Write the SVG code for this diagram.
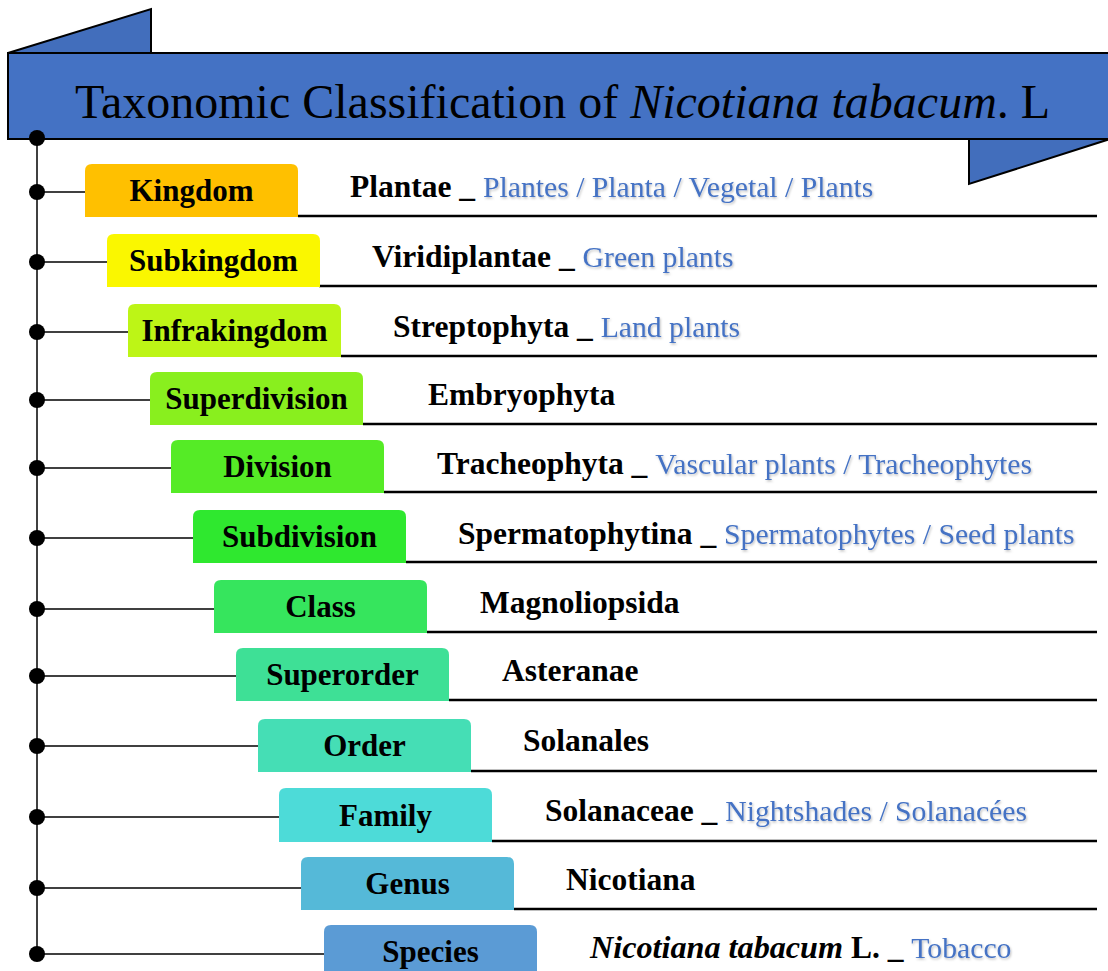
<svg xmlns="http://www.w3.org/2000/svg" width="1108" height="971" viewBox="0 0 1108 971">
<defs>
<style>
.rank{font-family:"Liberation Serif","Times New Roman",serif;font-weight:bold;font-size:31px;fill:#000;text-anchor:middle}
.name{font-family:"Liberation Serif","Times New Roman",serif;font-weight:bold;font-size:31.5px;fill:#000}
.com{font-weight:normal;font-size:29.7px;fill:#4472C4;filter:url(#sh)}
.ul{stroke:#000;stroke-width:2.5;fill:none}
.con{stroke:#000;stroke-width:1.5;fill:none}
.dot{fill:#000}
.title{font-family:"Liberation Serif","Times New Roman",serif;font-size:48px;fill:#000}
</style>
<filter id="sh" x="-5%" y="-20%" width="110%" height="150%">
<feDropShadow dx="1" dy="1.5" stdDeviation="1" flood-color="#000" flood-opacity="0.25"/>
</filter>
</defs>
<rect width="1108" height="971" fill="#fff"/>

<g id="banner">
<polygon points="8,53 151,9 151,53" fill="#426EBC" stroke="#000" stroke-width="2" stroke-linejoin="miter"/>
<polygon points="969,139 969,184 1110,139" fill="#426EBC" stroke="#000" stroke-width="2"/>
<rect x="8" y="53" width="1104" height="86" fill="#4472C4" stroke="#000" stroke-width="2"/>
<text class="title" x="75" y="118">Taxonomic Classification of <tspan font-style="italic">Nicotiana tabacum</tspan>. L</text>
</g>

<g id="connectors">
<line class="con" x1="37" y1="138" x2="37" y2="954"/>
<circle class="dot" cx="37" cy="138" r="8"/>
<line class="con" x1="37" y1="192" x2="85" y2="192"/><circle class="dot" cx="37" cy="192" r="8"/>
<line class="con" x1="37" y1="262" x2="107" y2="262"/><circle class="dot" cx="37" cy="262" r="8"/>
<line class="con" x1="37" y1="332" x2="128" y2="332"/><circle class="dot" cx="37" cy="332" r="8"/>
<line class="con" x1="37" y1="400" x2="150" y2="400"/><circle class="dot" cx="37" cy="400" r="8"/>
<line class="con" x1="37" y1="468" x2="172" y2="468"/><circle class="dot" cx="37" cy="468" r="8"/>
<line class="con" x1="37" y1="538" x2="193" y2="538"/><circle class="dot" cx="37" cy="538" r="8"/>
<line class="con" x1="37" y1="609" x2="214" y2="609"/><circle class="dot" cx="37" cy="609" r="8"/>
<line class="con" x1="37" y1="676" x2="236" y2="676"/><circle class="dot" cx="37" cy="676" r="8"/>
<line class="con" x1="37" y1="746" x2="258" y2="746"/><circle class="dot" cx="37" cy="746" r="8"/>
<line class="con" x1="37" y1="817" x2="279" y2="817"/><circle class="dot" cx="37" cy="817" r="8"/>
<line class="con" x1="37" y1="888" x2="301" y2="888"/><circle class="dot" cx="37" cy="888" r="8"/>
<line class="con" x1="37" y1="954" x2="324" y2="954"/><circle class="dot" cx="37" cy="954" r="8"/>
</g>

<g id="kingdom">
<line class="ul" x1="298" y1="216" x2="1097" y2="216"/>
<path d="M85,217 V171 Q85,164 92,164 H291 Q298,164 298,171 V217 Z" fill="#FFC000"/>
<text class="rank" x="191.5" y="201">Kingdom</text>
<text class="name" x="350" y="197">Plantae _ <tspan class="com">Plantes / Planta / Vegetal / Plants</tspan></text>
</g>

<g id="subkingdom">
<line class="ul" x1="319" y1="286" x2="1097" y2="286"/>
<path d="M107,287 V241 Q107,234 114,234 H313 Q320,234 320,241 V287 Z" fill="#FAF700"/>
<text class="rank" x="213.5" y="271">Subkingdom</text>
<text class="name" x="372" y="267">Viridiplantae _ <tspan class="com">Green plants</tspan></text>
</g>

<g id="infrakingdom">
<line class="ul" x1="341" y1="356" x2="1097" y2="356"/>
<path d="M128,357 V311 Q128,304 135,304 H334 Q341,304 341,311 V357 Z" fill="#BDF516"/>
<text class="rank" x="234.5" y="341">Infrakingdom</text>
<text class="name" x="393" y="337">Streptophyta _ <tspan class="com">Land plants</tspan></text>
</g>

<g id="superdivision">
<line class="ul" x1="363" y1="424" x2="1097" y2="424"/>
<path d="M150,425 V379 Q150,372 157,372 H356 Q363,372 363,379 V425 Z" fill="#89EF1E"/>
<text class="rank" x="256.5" y="409">Superdivision</text>
<text class="name" x="428" y="405">Embryophyta</text>
</g>

<g id="division">
<line class="ul" x1="384" y1="492" x2="1097" y2="492"/>
<path d="M171,493 V447 Q171,440 178,440 H377 Q384,440 384,447 V493 Z" fill="#55EB26"/>
<text class="rank" x="277.5" y="477">Division</text>
<text class="name" x="437" y="474">Tracheophyta _ <tspan class="com">Vascular plants / Tracheophytes</tspan></text>
</g>

<g id="subdivision">
<line class="ul" x1="406" y1="562" x2="1097" y2="562"/>
<path d="M193,563 V517 Q193,510 200,510 H399 Q406,510 406,517 V563 Z" fill="#2FE82F"/>
<text class="rank" x="299.5" y="547">Subdivision</text>
<text class="name" x="458" y="544">Spermatophytina _ <tspan class="com">Spermatophytes / Seed plants</tspan></text>
</g>

<g id="class">
<line class="ul" x1="427" y1="632" x2="1097" y2="632"/>
<path d="M214,633 V587 Q214,580 221,580 H420 Q427,580 427,587 V633 Z" fill="#36E55D"/>
<text class="rank" x="320.5" y="617">Class</text>
<text class="name" x="480" y="613">Magnoliopsida</text>
</g>

<g id="superorder">
<line class="ul" x1="449" y1="700" x2="1097" y2="700"/>
<path d="M236,701 V655 Q236,648 243,648 H442 Q449,648 449,655 V701 Z" fill="#3EE096"/>
<text class="rank" x="342.5" y="685">Superorder</text>
<text class="name" x="502" y="681">Asteranae</text>
</g>

<g id="order">
<line class="ul" x1="471" y1="771" x2="1097" y2="771"/>
<path d="M258,772 V726 Q258,719 265,719 H464 Q471,719 471,726 V772 Z" fill="#45DEB5"/>
<text class="rank" x="364.5" y="756">Order</text>
<text class="name" x="523" y="751">Solanales</text>
</g>

<g id="family">
<line class="ul" x1="492" y1="841" x2="1097" y2="841"/>
<path d="M279,842 V795 Q279,788 286,788 H485 Q492,788 492,795 V842 Z" fill="#4DDBD8"/>
<text class="rank" x="385.5" y="826">Family</text>
<text class="name" x="545" y="821">Solanaceae _ <tspan class="com">Nightshades / Solanacées</tspan></text>
</g>

<g id="genus">
<line class="ul" x1="514" y1="909" x2="1097" y2="909"/>
<path d="M301,910 V864 Q301,857 308,857 H507 Q514,857 514,864 V910 Z" fill="#55B9D8"/>
<text class="rank" x="407.5" y="894">Genus</text>
<text class="name" x="566" y="890">Nicotiana</text>
</g>

<g id="species">
<path d="M324,975 V932 Q324,925 331,925 H530 Q537,925 537,932 V975 Z" fill="#5B9BD5"/>
<text class="rank" x="430.5" y="962">Species</text>
<text class="name" x="590" y="958"><tspan font-style="italic" font-size="32.2px">Nicotiana tabacum</tspan> L. _ <tspan class="com">Tobacco</tspan></text>
</g>
</svg>
